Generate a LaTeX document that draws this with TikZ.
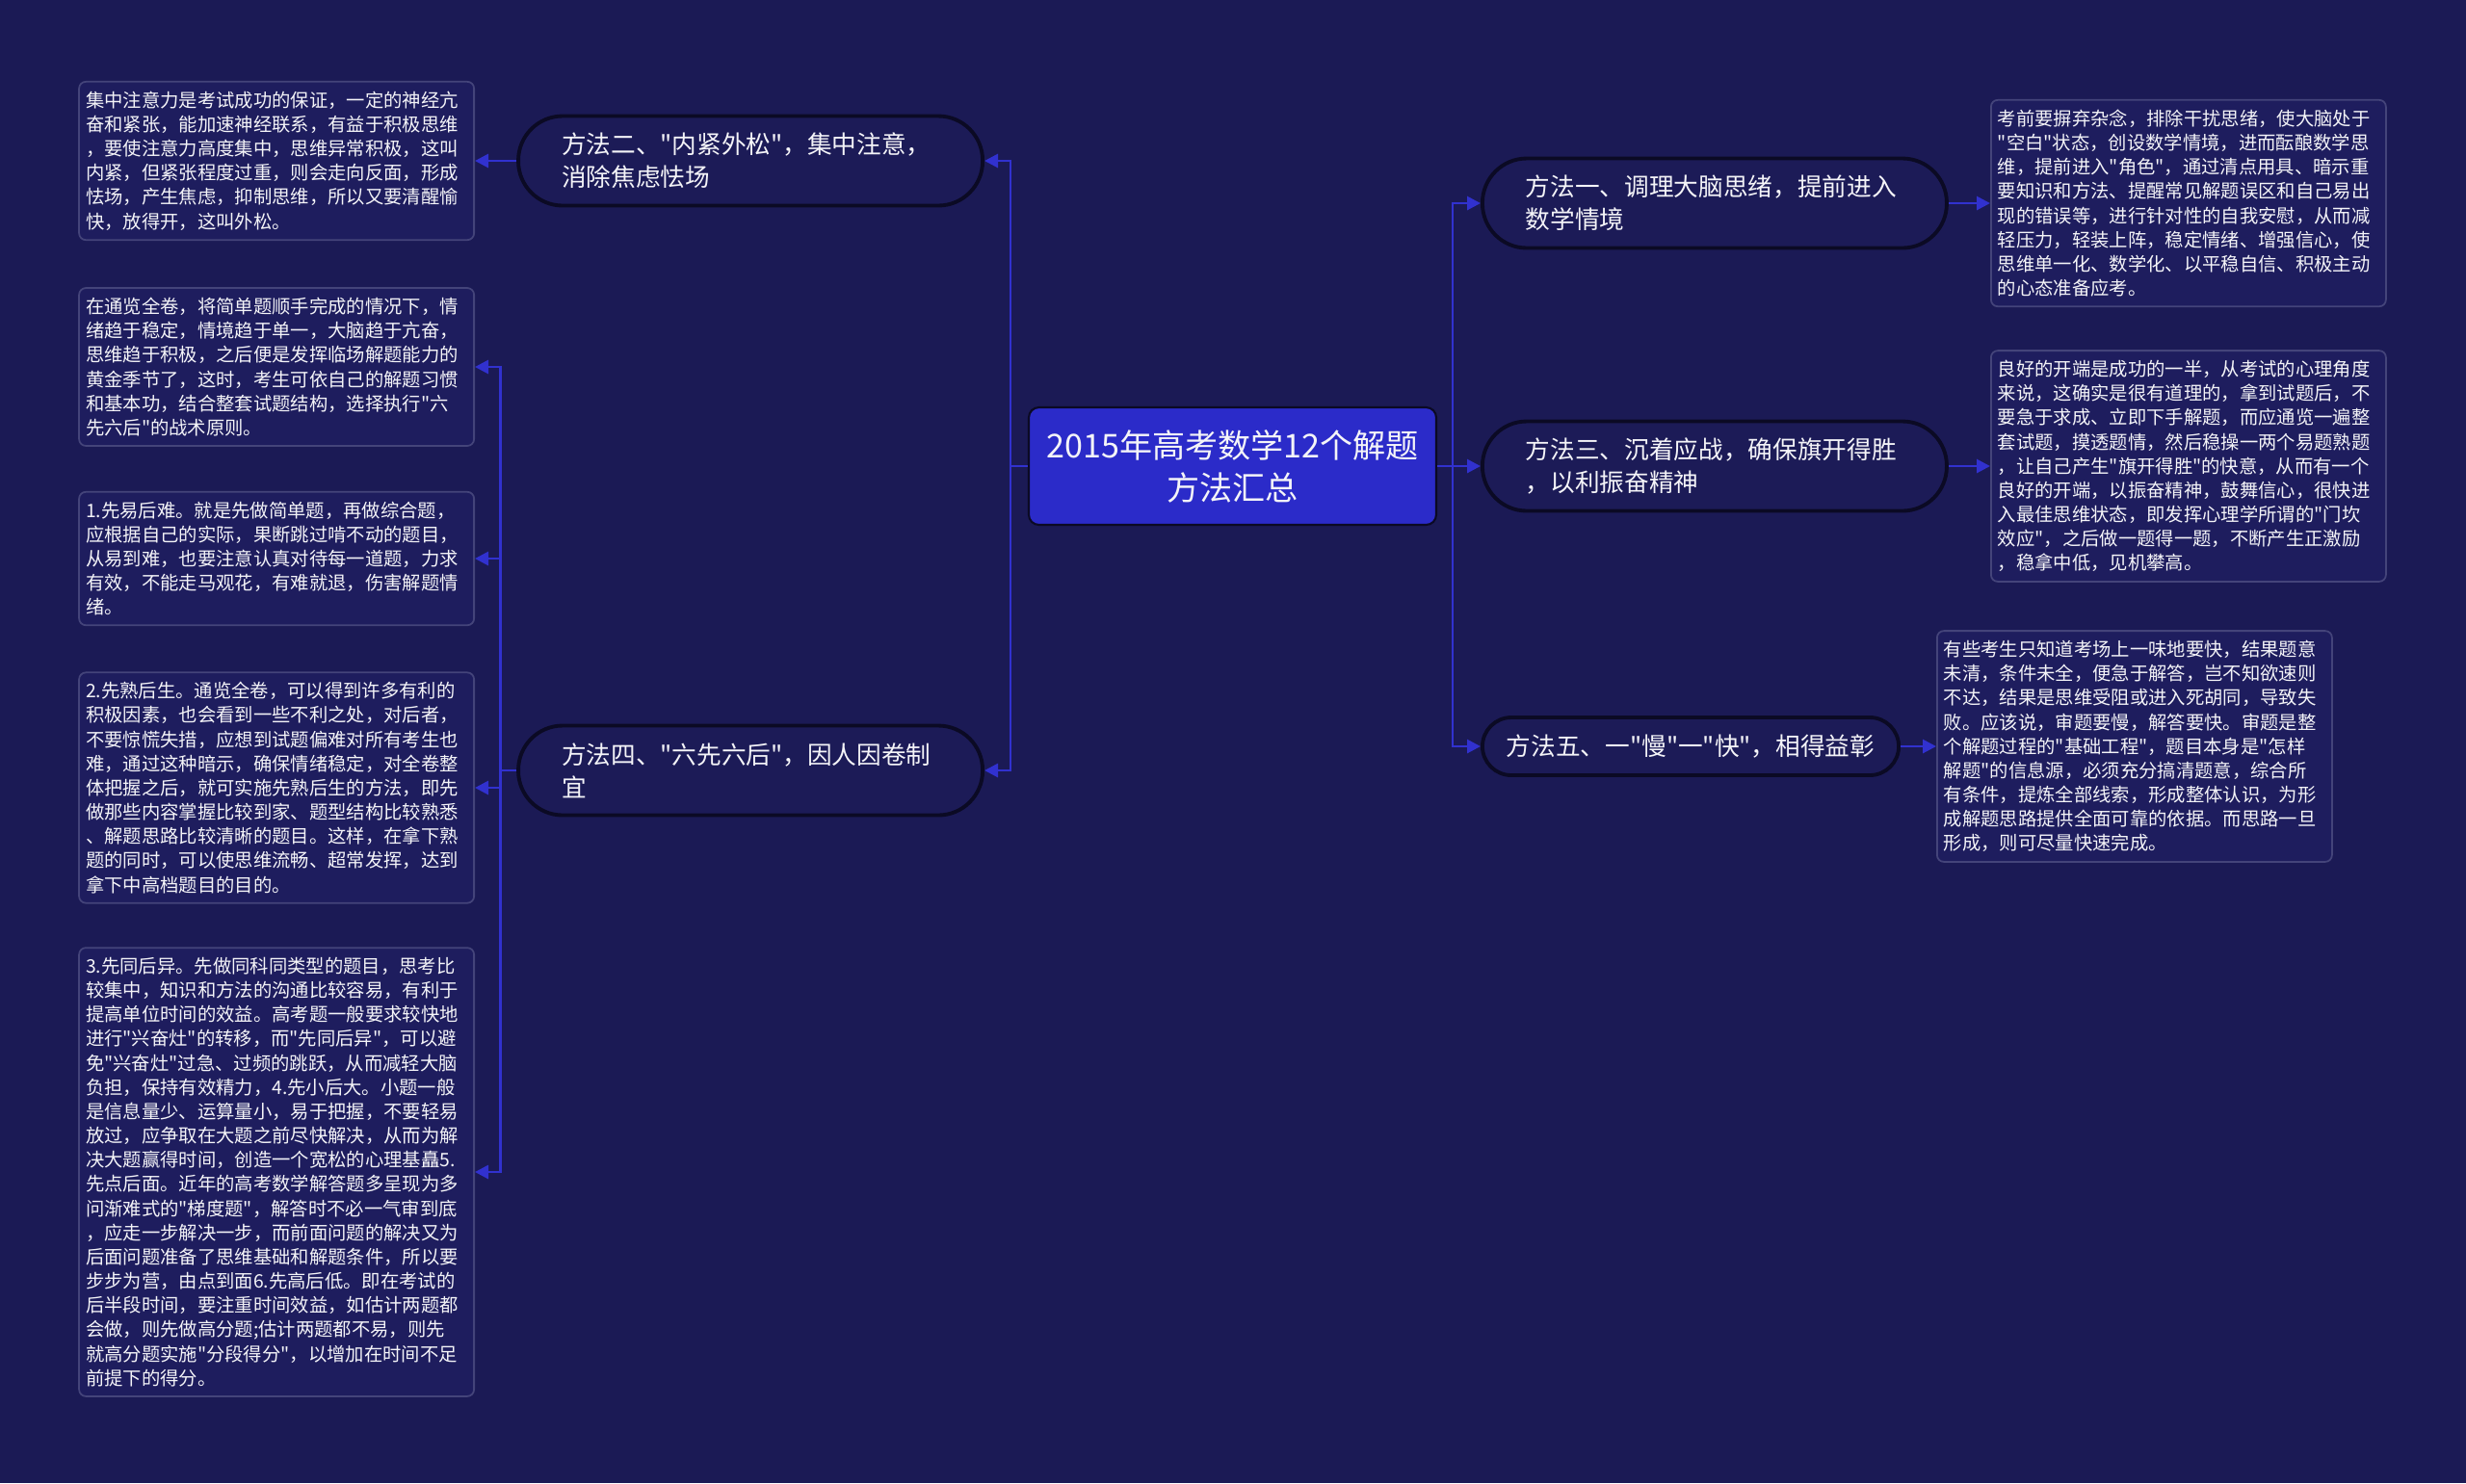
\documentclass[tikz,border=0pt]{standalone}
\usepackage{fontspec}
\newfontfamily\cnfont{Noto Sans CJK SC}
\usetikzlibrary{arrows.meta, positioning}
\definecolor{nightbg}{HTML}{1B1A55}
\definecolor{rootblue}{HTML}{2B2BC9}
\definecolor{linkblue}{HTML}{3131CF}
\definecolor{pillfill}{HTML}{1C1B57}
\definecolor{pilledge}{HTML}{0B0A24}
\definecolor{leaffill}{HTML}{1E1D5E}
\definecolor{leafedge}{HTML}{44447A}
\definecolor{paper}{HTML}{F4F4F8}

\begin{document}
\begin{tikzpicture}[
    >={Triangle[length=1.4mm, width=1.4mm]},
    every node/.style={text=paper},
    root/.style={fill=rootblue, draw=pilledge, line width=0.6pt,
      rounded corners=3pt, minimum width=4.23cm, minimum height=1.22cm,
      align=center, font=\cnfont\fontsize{9.7}{12.5}\selectfont},
    branch/.style={fill=pillfill, draw=pilledge, line width=1.1pt,
      rounded corners=0.46cm, minimum height=0.93cm, inner xsep=0.45cm,
      align=left, font=\cnfont\fontsize{7.3}{9.7}\selectfont},
    leaf/.style={fill=leaffill, draw=leafedge, line width=0.5pt,
      rounded corners=2pt, text width=3.96cm, inner xsep=0.07cm,
      inner ysep=0.1cm, align=left, font=\cnfont\fontsize{5.5}{7.16}\selectfont},
    link/.style={linkblue, line width=0.8pt, ->},
  ]

  % Background
  \fill[nightbg] (0,0) rectangle (25.6,-15.4);

  % === Root ===
  \node[root] (root) at (12.795,-4.84) {2015年高考数学12个解题\\方法汇总};

  % === Methods, right side ===
  \node[branch, text width=3.92cm, anchor=west] (m1) at (15.37,-2.11)
    {方法一、调理大脑思绪，提前进入\\数学情境};
  \node[branch, text width=3.92cm, anchor=west] (m3) at (15.37,-4.84)
    {方法三、沉着应战，确保旗开得胜\\，以利振奋精神};
  \node[branch, minimum height=0.6cm, rounded corners=0.3cm,
        inner xsep=0.25cm, anchor=west] (m5) at (15.37,-7.75)
    {方法五、一"慢"一"快"，相得益彰};

  % === Methods, left side ===
  \node[branch, text width=3.92cm, anchor=east] (m2) at (10.22,-1.67)
    {方法二、"内紧外松"，集中注意，\\消除焦虑怯场};
  \node[branch, text width=3.92cm, anchor=east] (m4) at (10.22,-8.00)
    {方法四、"六先六后"，因人因卷制\\宜};

  % === Texts, right side ===
  \node[leaf, anchor=west] (t1) at (20.66,-2.11)
    {考前要摒弃杂念，排除干扰思绪，使大脑处于\\
     "空白"状态，创设数学情境，进而酝酿数学思\\
     维，提前进入"角色"，通过清点用具、暗示重\\
     要知识和方法、提醒常见解题误区和自己易出\\
     现的错误等，进行针对性的自我安慰，从而减\\
     轻压力，轻装上阵，稳定情绪、增强信心，使\\
     思维单一化、数学化、以平稳自信、积极主动\\
     的心态准备应考。};
  \node[leaf, anchor=west] (t3) at (20.66,-4.84)
    {良好的开端是成功的一半，从考试的心理角度\\
     来说，这确实是很有道理的，拿到试题后，不\\
     要急于求成、立即下手解题，而应通览一遍整\\
     套试题，摸透题情，然后稳操一两个易题熟题\\
     ，让自己产生"旗开得胜"的快意，从而有一个\\
     良好的开端，以振奋精神，鼓舞信心，很快进\\
     入最佳思维状态，即发挥心理学所谓的"门坎\\
     效应"，之后做一题得一题，不断产生正激励\\
     ，稳拿中低，见机攀高。};
  \node[leaf, anchor=west] (t5) at (20.10,-7.75)
    {有些考生只知道考场上一味地要快，结果题意\\
     未清，条件未全，便急于解答，岂不知欲速则\\
     不达，结果是思维受阻或进入死胡同，导致失\\
     败。应该说，审题要慢，解答要快。审题是整\\
     个解题过程的"基础工程"，题目本身是"怎样\\
     解题"的信息源，必须充分搞清题意，综合所\\
     有条件，提炼全部线索，形成整体认识，为形\\
     成解题思路提供全面可靠的依据。而思路一旦\\
     形成，则可尽量快速完成。};

  % === Texts, left side ===
  \node[leaf, anchor=east] (t2) at (4.93,-1.67)
    {集中注意力是考试成功的保证，一定的神经亢\\
     奋和紧张，能加速神经联系，有益于积极思维\\
     ，要使注意力高度集中，思维异常积极，这叫\\
     内紧，但紧张程度过重，则会走向反面，形成\\
     怯场，产生焦虑，抑制思维，所以又要清醒愉\\
     快，放得开，这叫外松。};
  \node[leaf, anchor=east] (t4a) at (4.93,-3.81)
    {在通览全卷，将简单题顺手完成的情况下，情\\
     绪趋于稳定，情境趋于单一，大脑趋于亢奋，\\
     思维趋于积极，之后便是发挥临场解题能力的\\
     黄金季节了，这时，考生可依自己的解题习惯\\
     和基本功，结合整套试题结构，选择执行"六\\
     先六后"的战术原则。};
  \node[leaf, anchor=east] (t4b) at (4.93,-5.80)
    {1.先易后难。就是先做简单题，再做综合题，\\
     应根据自己的实际，果断跳过啃不动的题目，\\
     从易到难，也要注意认真对待每一道题，力求\\
     有效，不能走马观花，有难就退，伤害解题情\\
     绪。};
  \node[leaf, anchor=east] (t4c) at (4.93,-8.18)
    {2.先熟后生。通览全卷，可以得到许多有利的\\
     积极因素，也会看到一些不利之处，对后者，\\
     不要惊慌失措，应想到试题偏难对所有考生也\\
     难，通过这种暗示，确保情绪稳定，对全卷整\\
     体把握之后，就可实施先熟后生的方法，即先\\
     做那些内容掌握比较到家、题型结构比较熟悉\\
     、解题思路比较清晰的题目。这样，在拿下熟\\
     题的同时，可以使思维流畅、超常发挥，达到\\
     拿下中高档题目的目的。};
  \node[leaf, anchor=east] (t4d) at (4.93,-12.17)
    {3.先同后异。先做同科同类型的题目，思考比\\
     较集中，知识和方法的沟通比较容易，有利于\\
     提高单位时间的效益。高考题一般要求较快地\\
     进行"兴奋灶"的转移，而"先同后异"，可以避\\
     免"兴奋灶"过急、过频的跳跃，从而减轻大脑\\
     负担，保持有效精力，4.先小后大。小题一般\\
     是信息量少、运算量小，易于把握，不要轻易\\
     放过，应争取在大题之前尽快解决，从而为解\\
     决大题赢得时间，创造一个宽松的心理基矗5.\\
     先点后面。近年的高考数学解答题多呈现为多\\
     问渐难式的"梯度题"，解答时不必一气审到底\\
     ，应走一步解决一步，而前面问题的解决又为\\
     后面问题准备了思维基础和解题条件，所以要\\
     步步为营，由点到面6.先高后低。即在考试的\\
     后半段时间，要注重时间效益，如估计两题都\\
     会做，则先做高分题;估计两题都不易，则先\\
     就高分题实施"分段得分"，以增加在时间不足\\
     前提下的得分。};

  % === Connectors ===
  \draw[link] (root.east) -- ++(0.16,0) |- (m1.west);
  \draw[link] (root.east) -- ++(0.16,0) |- (m3.west);
  \draw[link] (root.east) -- ++(0.16,0) |- (m5.west);
  \draw[link] (root.west) -- ++(-0.18,0) |- (m2.east);
  \draw[link] (root.west) -- ++(-0.18,0) |- (m4.east);

  \draw[link] (m1.east) -- (t1.west);
  \draw[link] (m3.east) -- (t3.west);
  \draw[link] (m5.east) -- (t5.west);
  \draw[link] (m2.west) -- (t2.east);
  \draw[link] (m4.west) -- ++(-0.17,0) |- (t4a.east);
  \draw[link] (m4.west) -- ++(-0.17,0) |- (t4b.east);
  \draw[link] (m4.west) -- ++(-0.17,0) |- (t4c.east);
  \draw[link] (m4.west) -- ++(-0.17,0) |- (t4d.east);

\end{tikzpicture}
\end{document}
